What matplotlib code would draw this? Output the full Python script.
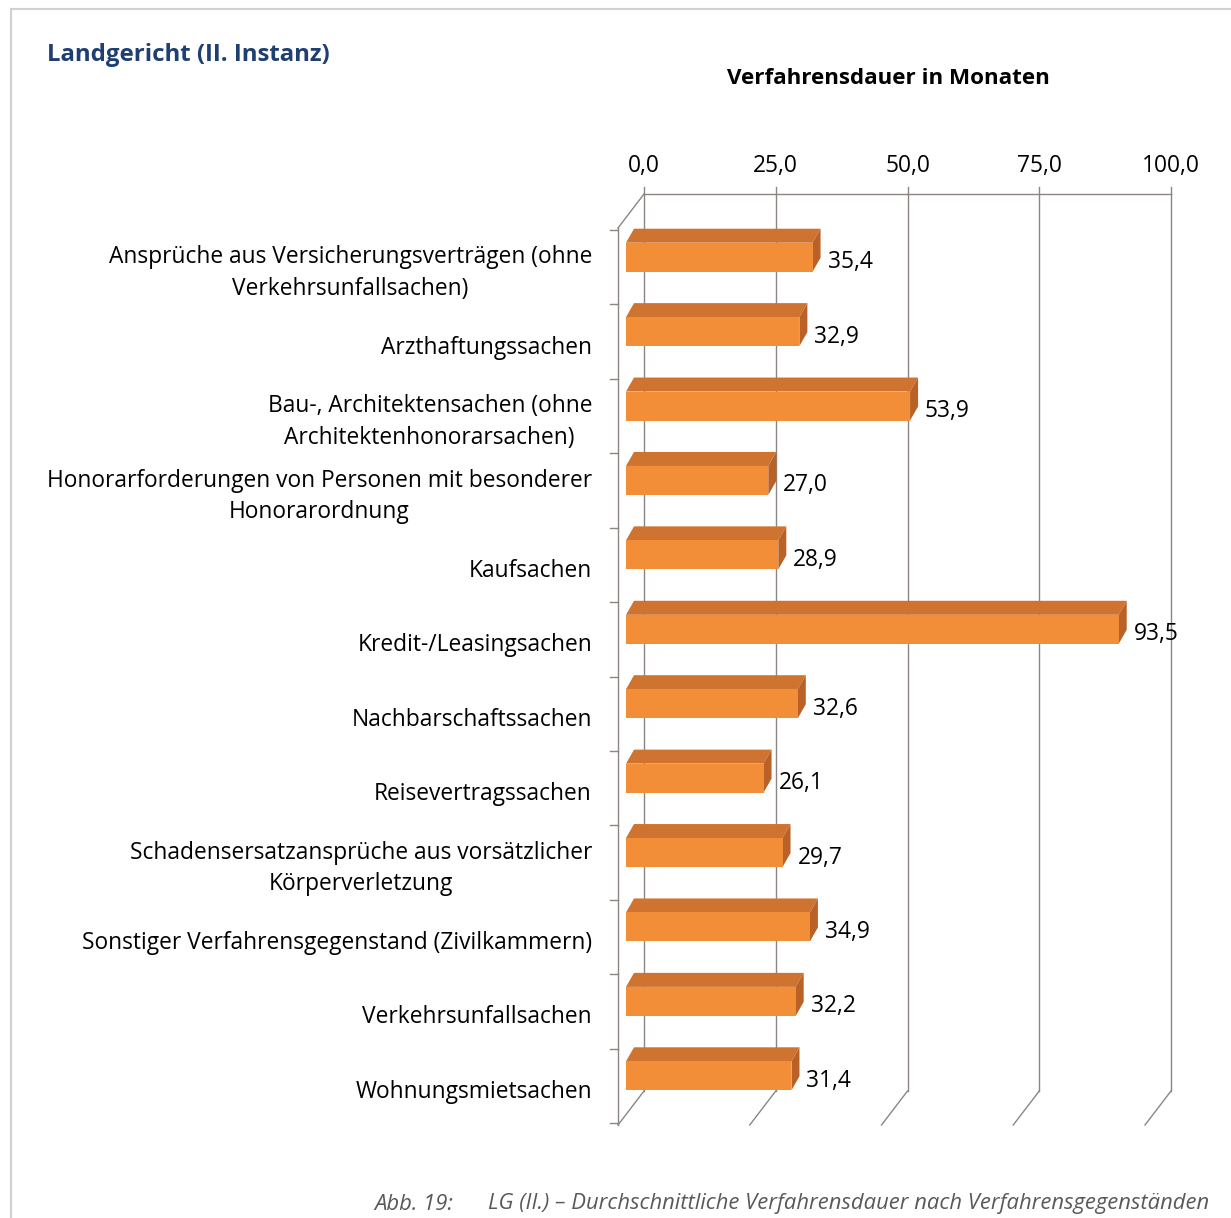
import matplotlib.pyplot as plt
from matplotlib.patches import Polygon, Rectangle
from matplotlib.transforms import offset_copy

# Daten
categories = [
    "Ansprüche aus Versicherungsverträgen (ohne\nVerkehrsunfallsachen)",
    "Arzthaftungssachen",
    "Bau-, Architektensachen (ohne\nArchitektenhonorarsachen)",
    "Honorarforderungen von Personen mit besonderer\nHonorarordnung",
    "Kaufsachen",
    "Kredit-/Leasingsachen",
    "Nachbarschaftssachen",
    "Reisevertragssachen",
    "Schadensersatzansprüche aus vorsätzlicher\nKörperverletzung",
    "Sonstiger Verfahrensgegenstand (Zivilkammern)",
    "Verkehrsunfallsachen",
    "Wohnungsmietsachen",
]
values = [35.4, 32.9, 53.9, 27.0, 28.9, 93.5, 32.6, 26.1, 29.7, 34.9, 32.2, 31.4]
x_ticks = [0, 25, 50, 75, 100]
x_ticklabels = ["0,0", "25,0", "50,0", "75,0", "100,0"]

W, H = 1231, 1218
FONT = "Open Sans"
plt.rcParams["font.family"] = [FONT, "DejaVu Sans"]
FS = 16.4

fig = plt.figure(figsize=(W / 100, H / 100), dpi=100)

# Vorderebene des 3D-Diagramms (Pixel: x 618..1145, y 230..1123)
ax_l, ax_r, ax_t, ax_b = 618, 1145, 230, 1123
ax = fig.add_axes([ax_l / W, 1 - ax_b / H, (ax_r - ax_l) / W, (ax_b - ax_t) / H])
n = len(categories)
ax.set_xlim(0, 100)
ax.set_ylim(n - 0.5, -0.5)
ax.axis("off")

# Pixel -> Dateneinheiten
px_x = (ax_r - ax_l) / 100.0
px_y = (ax_b - ax_t) / n

def dx(p):
    return p / px_x

def dy(p):  # positive Pixel = nach oben
    return -p / px_y

wall_col = "#8c8582"
lw = 1.0

# Rückwand: Gitterlinien, Oberkante, Ticks
BX, BY = 26, 34
y_top, y_bot = -0.5 + dy(2), n - 0.5 + dy(-2)
for v in x_ticks:
    ax.plot([v + dx(BX)] * 2, [y_top + dy(BY), y_bot + dy(BY)],
            color=wall_col, lw=lw, clip_on=False, zorder=1)
    # Boden-Diagonalen
    ax.plot([v, v + dx(BX)], [y_bot, y_bot + dy(BY)],
            color=wall_col, lw=lw, clip_on=False, zorder=1)
    # kleine Ticks oben
    ax.plot([v + dx(BX)] * 2, [y_top + dy(BY), y_top + dy(BY + 7)],
            color=wall_col, lw=lw, clip_on=False, zorder=1)
ax.plot([dx(BX), 100 + dx(BX)], [y_top + dy(BY)] * 2,
        color=wall_col, lw=lw, clip_on=False, zorder=1)

# linke Wand
ax.plot([0, 0], [y_top, y_bot], color=wall_col, lw=lw, clip_on=False, zorder=1)
ax.plot([0, dx(BX)], [y_top, y_top + dy(BY)], color=wall_col, lw=lw,
        clip_on=False, zorder=1)
for k in range(n + 1):
    ax.plot([dx(-8), 0], [k - 0.5, k - 0.5], color=wall_col, lw=lw,
            clip_on=False, zorder=1)

# Balken (3D-Optik)
FX, FY = 8, 10      # Versatz der Vorderfläche
DX, DY = 8, 14      # Tiefe des Balkens
bar_h = 29 / px_y
front_col = "#F28D38"
top_col = "#CF7330"
side_col = "#BA6128"
for i, v in enumerate(values):
    x0 = dx(FX)
    x1 = v + dx(FX)
    yc = i + dy(FY)
    yt, yb = yc - bar_h / 2, yc + bar_h / 2
    ax.add_patch(Polygon([(x0, yt), (x1, yt), (x1 + dx(DX), yt + dy(DY)),
                          (x0 + dx(DX), yt + dy(DY))],
                         closed=True, fc=top_col, ec="none", clip_on=False, zorder=3))
    ax.add_patch(Polygon([(x1, yt), (x1 + dx(DX), yt + dy(DY)),
                          (x1 + dx(DX), yb + dy(DY)), (x1, yb)],
                         closed=True, fc=side_col, ec="none", clip_on=False, zorder=3))
    ax.add_patch(Rectangle((x0, yt), x1 - x0, yb - yt, fc=front_col, ec="none",
                           clip_on=False, zorder=3))
    ax.text(x1, yc, f"{v:.1f}".replace(".", ","), fontsize=FS,
            ha="left", va="center", clip_on=False, zorder=4,
            transform=offset_copy(ax.transData, fig=fig, x=15, y=-5, units="dots"))

# Kategorien
for i, lab in enumerate(categories):
    ax.text(0, i, lab, fontsize=FS, ha="right", va="center",
            multialignment="center", linespacing=1.42,
            transform=offset_copy(ax.transData, fig=fig, x=-26, y=-6, units="dots"))

# x-Achsenbeschriftung oben
for v, t in zip(x_ticks, x_ticklabels):
    ax.text(v + dx(BX), -0.5, t, fontsize=FS, ha="center", va="center",
            transform=offset_copy(ax.transData, fig=fig, x=0, y=64, units="dots"))

# Titel
fig.text(47 / W, 1 - 55 / H, "Landgericht (II. Instanz)", fontsize=17.3,
         fontweight="bold", color="#1F3F73", ha="left", va="center")
fig.text(888 / W, 1 - 78 / H, "Verfahrensdauer in Monaten", fontsize=16.1,
         fontweight="bold", color="black", ha="center", va="center")

# Bildunterschrift
fig.text(374 / W, 1 - 1204 / H, "Abb. 19:", fontsize=15.8, style="italic",
         color="#595959", ha="left", va="center")
fig.text(488 / W, 1 - 1204 / H,
         "LG (II.) – Durchschnittliche Verfahrensdauer nach Verfahrensgegenständen",
         fontsize=15.8, style="italic", color="#595959", ha="left", va="center")

# Rahmen oben und links
fig.add_artist(plt.Line2D([11 / W, 1], [1 - 9 / H] * 2, color="#d0d0d0", lw=1.5))
fig.add_artist(plt.Line2D([11 / W] * 2, [1 - 9 / H, 0], color="#d0d0d0", lw=1.5))

fig.savefig("out.png", dpi=100)
